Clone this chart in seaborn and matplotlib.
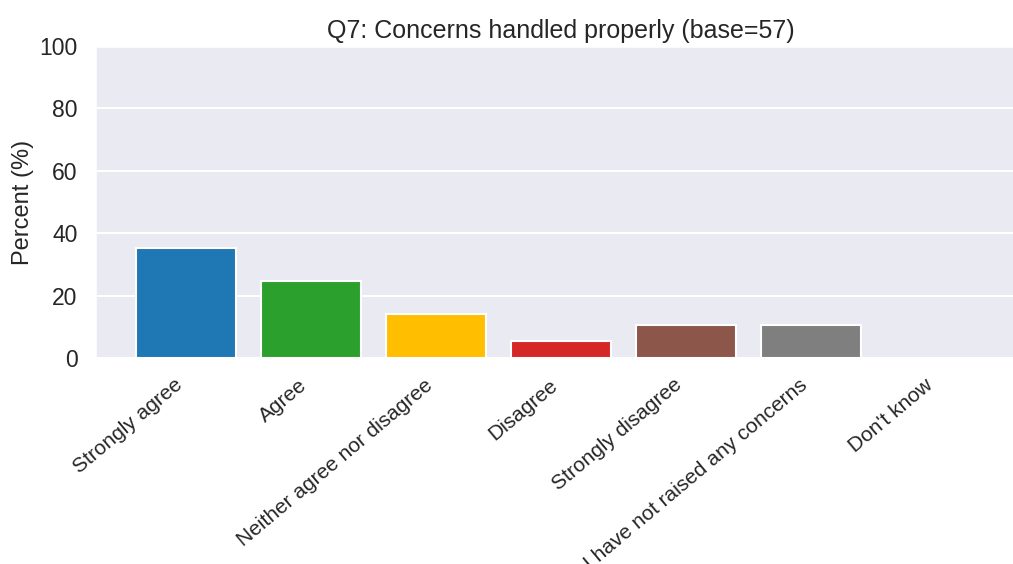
import matplotlib
matplotlib.use("Agg")
import matplotlib.pyplot as plt
import seaborn as sns

categories = [
    "Strongly agree",
    "Agree",
    "Neither agree nor disagree",
    "Disagree",
    "Strongly disagree",
    "I have not raised any concerns",
    "Don't know",
]
percents = [35.1, 24.6, 14.0, 5.3, 10.5, 10.5, 0.0]
bar_colors = ["#1f77b4", "#2ca02c", "#ffbf00", "#d62728", "#8c564b", "#7f7f7f", "#e377c2"]
y_ticks = [0, 20, 40, 60, 80, 100]

sns.set_theme(style="darkgrid", context="talk")
plt.rcParams["font.family"] = ["Liberation Sans", "DejaVu Sans"]

fig = plt.figure(figsize=(10.13, 5.64), dpi=100)
ax = fig.add_axes([95 / 1013, 206 / 564, (1027 - 95) / 1013, 312 / 564])

sns.barplot(x=categories, y=percents, hue=categories, palette=bar_colors,
            saturation=1, width=0.8, legend=False, ax=ax)

ax.set_xlim(-0.728, 6.728)
ax.set_ylim(0, 100)
ax.set_yticks(y_ticks)
ax.set_ylabel("Percent (%)", fontsize=17)
ax.set_xlabel("")
ax.set_title("Q7: Concerns handled properly (base=57)", fontsize=18, color="#262626")
ax.tick_params(axis="x", labelsize=15)
plt.setp(ax.get_xticklabels(), rotation=40, ha="right")

fig.savefig("out.png", dpi=100)
